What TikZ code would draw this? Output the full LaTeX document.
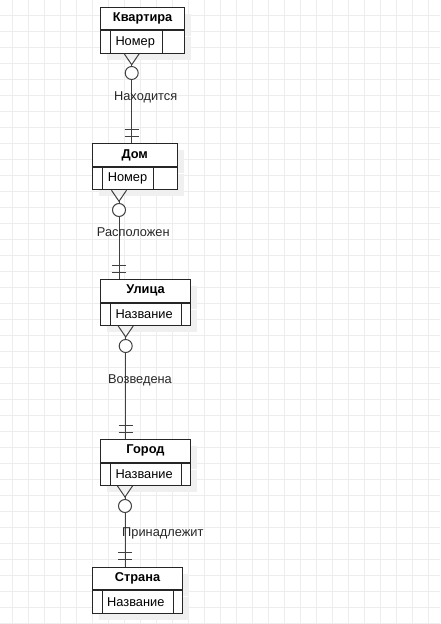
\documentclass[tikz,border=0pt]{standalone}
\usepackage{fontspec}
\setmainfont{Liberation Sans}
\usetikzlibrary{shapes, arrows, positioning, calc, shadows}

\begin{document}
\begin{tikzpicture}[
    x=1pt, y=-1pt,
    every node/.style={font=\fontsize{12.8}{15}\selectfont},
    gridline/.style={draw=black!7, line width=1pt},
    entity/.style={rectangle, draw=black!85, fill=white, line width=1pt, minimum height=22.5pt, inner sep=0pt, anchor=north west, font=\fontsize{12.8}{15}\selectfont\bfseries, drop shadow={shadow xshift=6.5pt, shadow yshift=-6.5pt, fill=black!6, opacity=1}},
    rowbox/.style={rectangle, draw=black!85, fill=white, line width=1pt, minimum height=22.5pt, inner sep=0pt, anchor=north west, drop shadow={shadow xshift=6.5pt, shadow yshift=-6.5pt, fill=black!6, opacity=1}},
    attrbox/.style={rectangle, draw=black!85, line width=1pt, minimum height=22.5pt, inner xsep=5pt, inner ysep=0pt, anchor=west, align=left},
    optcircle/.style={circle, draw=black!75, fill=white, line width=1pt, minimum size=13pt, inner sep=0pt},
    conn/.style={draw=black!75, line width=1pt},
    lbl/.style={inner sep=0pt, text=black!85}
]
\useasboundingbox (0,0) rectangle (440,624);

% сетка
\foreach \gx in {0,...,26} \draw[gridline] (12.5+16*\gx,0) -- (12.5+16*\gx,624);
\foreach \gy in {0,...,38} \draw[gridline] (0,15+16*\gy) -- (440,15+16*\gy);

% сущности
\node[entity, minimum width=84.3pt] (kv) at (100,6.7) {Квартира};
\node[rowbox, minimum width=84.3pt] (kvrow) at (kv.south west) {};
\node[attrbox, text width=41.7pt] (kvattr) at ([xshift=10pt]kvrow.west) {Номер};

\node[entity, minimum width=85pt] (dom) at (91.7,143.3) {Дом};
\node[rowbox, minimum width=85pt] (domrow) at (dom.south west) {};
\node[attrbox, text width=41pt] (domattr) at ([xshift=10.6pt]domrow.west) {Номер};

\node[entity, minimum width=90pt] (ul) at (100,279) {Улица};
\node[rowbox, minimum width=90pt] (ulrow) at (ul.south west) {};
\node[attrbox, text width=61pt] (ulattr) at ([xshift=10pt]ulrow.west) {Название};

\node[entity, minimum width=90pt] (gor) at (100,439) {Город};
\node[rowbox, minimum width=90pt] (gorrow) at (gor.south west) {};
\node[attrbox, text width=61pt] (gorattr) at ([xshift=10pt]gorrow.west) {Название};

\node[entity, minimum width=89.4pt] (str) at (92.3,566.7) {Страна};
\node[rowbox, minimum width=89.4pt] (strrow) at (str.south west) {};
\node[attrbox, text width=61.6pt] (strattr) at ([xshift=9.4pt]strrow.west) {Название};

% кружки "ноль"
\node[optcircle] (c1) at (131.7,73) {};
\node[optcircle] (c2) at (119,210) {};
\node[optcircle] (c3) at (125.7,346) {};
\node[optcircle] (c4) at (125,506) {};

% связи: много (0..n) -> ровно один
\foreach \src/\c/\dst in {kvrow/c1/dom, domrow/c2/ul, ulrow/c3/gor, gorrow/c4/str} {
    \coordinate (foot) at (\c |- \src.south);
    \coordinate (head) at (\c |- \dst.north);
    \draw[conn] ($(foot)+(-7.5,0)$) -- ($(foot)+(0,11)$) -- ($(foot)+(7.5,0)$);
    \draw[conn] ($(foot)+(0,11)$) -- (\c.north);
    \draw[conn] (\c.south) -- (head);
    \draw[conn] ($(head)+(-7,-7)$) -- ($(head)+(7,-7)$);
    \draw[conn] ($(head)+(-7,-14)$) -- ($(head)+(7,-14)$);
}

% подписи связей
\node[lbl] (l1) at ($(c1)+(14,24.5)$) {Находится};
\node[lbl] (l2) at ($(c2)+(14.3,22.2)$) {Расположен};
\node[lbl] (l3) at ($(c3)+(14.3,34.8)$) {Возведена};
\node[lbl] (l4) at ($(c4)+(37.8,27.8)$) {Принадлежит};

\end{tikzpicture}
\end{document}
